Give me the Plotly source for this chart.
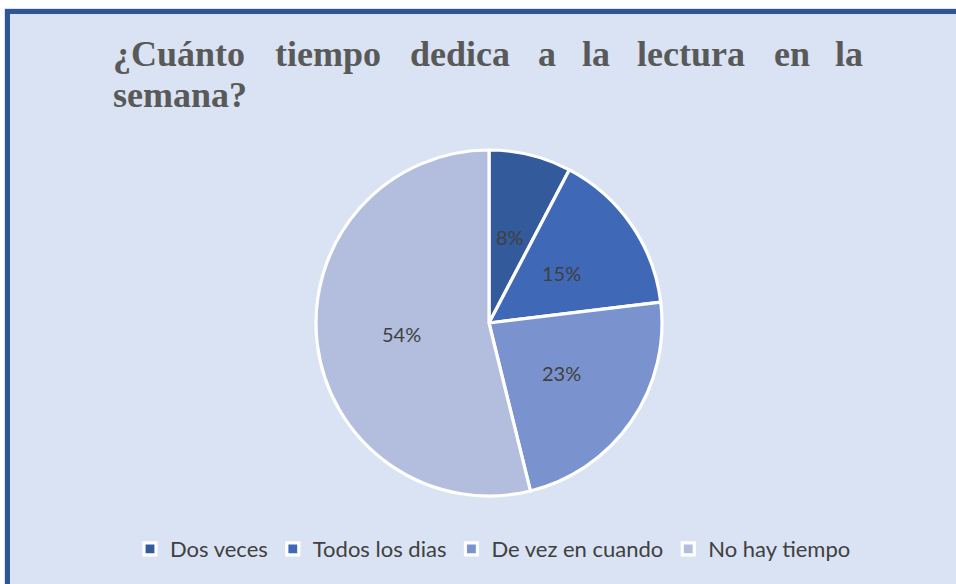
import math
import plotly.graph_objects as go

categories = ["Dos veces", "Todos los dias", "De vez en cuando", "No hay tiempo"]
counts = [1, 2, 3, 7]
colors = ["#335A9A", "#3F69B6", "#7A93CE", "#B3BEDF"]
title_line1 = ["¿Cuánto", "tiempo", "dedica", "a", "la", "lectura", "en", "la"]
title_line2 = "semana?"

W, H = 956, 584
cx, cy, r = 489, 323, 173

fig = go.Figure(go.Pie(
    labels=categories, values=counts, sort=False, direction="clockwise", rotation=0,
    marker=dict(colors=colors, line=dict(color="white", width=3.2)),
    textinfo="none",
    domain=dict(x=[(cx - r) / W, (cx + r) / W], y=[1 - (cy + r) / H, 1 - (cy - r) / H]),
    hoverinfo="label+percent",
))

annotations = []
# percentage labels at half radius along each slice's mid-angle (computed from counts)
total = sum(counts)
cum = 0
for v in counts:
    mid = (cum + v / 2) / total * 2 * math.pi
    cum += v
    px = cx + 0.51 * r * math.sin(mid)
    py = cy - 0.51 * r * math.cos(mid)
    annotations.append(dict(text=f"{round(100 * v / total)}%", x=px / W, y=1 - py / H,
                            xref="paper", yref="paper", xanchor="center", yanchor="middle",
                            showarrow=False,
                            font=dict(family="Lato, Open Sans, sans-serif", size=20, color="#404040")))

# justified title words (left x positions in pixels)
word_x = [111, 273, 408, 536, 580, 635, 772, 833]
tfont = dict(family="Liberation Serif, Times New Roman, serif", size=36, color="#595959")
for wx, wd in zip(word_x, title_line1):
    annotations.append(dict(text="<b>" + wd + "</b>", x=wx / W, y=1 - 70 / H, xref="paper", yref="paper",
                            xanchor="left", yanchor="bottom", showarrow=False, font=tfont, yshift=-6))
annotations.append(dict(text="<b>" + title_line2 + "</b>", x=111 / W, y=1 - 110 / H, xref="paper", yref="paper",
                        xanchor="left", yanchor="bottom", showarrow=False, font=tfont, yshift=-7))

shapes = [
    dict(type="rect", xref="paper", yref="paper", x0=0, x1=1, y0=1 - 8 / H, y1=1, fillcolor="white", line_width=0),
    dict(type="rect", xref="paper", yref="paper", x0=0, x1=4 / W, y0=0, y1=1, fillcolor="white", line_width=0),
    dict(type="rect", xref="paper", yref="paper", x0=5 / W, x1=1, y0=1 - 14 / H, y1=1 - 9 / H, fillcolor="#2F5597", line_width=0),
    dict(type="rect", xref="paper", yref="paper", x0=5 / W, x1=10 / W, y0=0, y1=1 - 9 / H, fillcolor="#2F5597", line_width=0),
]

fig.update_layout(
    width=W, height=H, margin=dict(l=0, r=0, t=0, b=0),
    paper_bgcolor="#DAE3F3", plot_bgcolor="#DAE3F3",
    showlegend=True,
    legend=dict(orientation="h", x=493 / W, xanchor="center", y=1 - 549 / H, yanchor="middle",
                font=dict(family="Lato, Open Sans, sans-serif", size=22, color="#404040"),
                bgcolor="rgba(0,0,0,0)", itemclick=False, itemdoubleclick=False),
    annotations=annotations, shapes=shapes,
)

fig.write_html("out.html", config={"displayModeBar": False},
               post_script="document.body.style.margin='0';document.body.style.overflow='hidden';")
